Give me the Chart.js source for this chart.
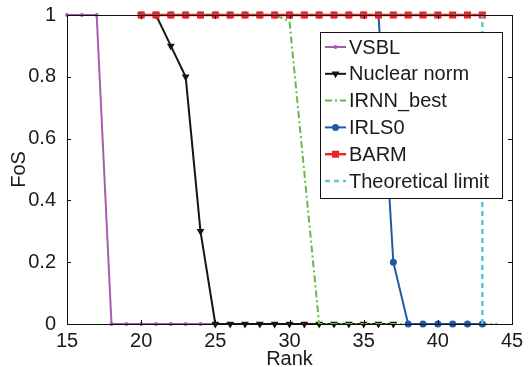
<!DOCTYPE html>
<html>
<head>
<meta charset="utf-8">
<script src="https://cdn.jsdelivr.net/npm/chart.js@4/dist/chart.umd.min.js"></script>
<style>
  html, body { margin: 0; padding: 0; background: #fff; }
  #wrap { width: 531px; height: 367px; }
</style>
</head>
<body>
<div id="wrap"><canvas id="fos" width="531" height="367"></canvas></div>
<script>
// values
var vsblRank = [15, 16, 17, 18, 19, 20, 21, 22, 23, 24, 25];
var vsblFoS  = [1, 1, 1, 0, 0, 0, 0, 0, 0, 0, 0];

var nucRank = [20, 21, 22, 23, 24, 25, 26, 27, 28, 29, 30, 31, 32, 33, 34, 35, 36, 37];
var nucFoS  = [1, 1, 0.9, 0.8, 0.3, 0, 0, 0, 0, 0, 0, 0, 0, 0, 0, 0, 0, 0];

var irnnRank = [20, 21, 22, 23, 24, 25, 26, 27, 28, 29, 30, 31, 32, 33, 34, 35, 36, 37, 38, 39, 40, 41, 42, 43, 44];
var irnnFoS  = [1, 1, 1, 1, 1, 1, 1, 1, 1, 1, 0.98, 0.49, 0, 0, 0, 0, 0, 0, 0, 0, 0, 0, 0, 0, 0];

var irlsRank = [20, 21, 22, 23, 24, 25, 26, 27, 28, 29, 30, 31, 32, 33, 34, 35, 36, 37, 38, 39, 40, 41, 42, 43];
var irlsFoS  = [1, 1, 1, 1, 1, 1, 1, 1, 1, 1, 1, 1, 1, 1, 1, 1, 1, 0.2, 0, 0, 0, 0, 0, 0];

var barmRank = [20, 21, 22, 23, 24, 25, 26, 27, 28, 29, 30, 31, 32, 33, 34, 35, 36, 37, 38, 39, 40, 41, 42, 43];
var barmFoS  = [1, 1, 1, 1, 1, 1, 1, 1, 1, 1, 1, 1, 1, 1, 1, 1, 1, 1, 1, 1, 1, 1, 1, 1];

var limitRank = [43, 43];
var limitFoS  = [0, 1];

var xTicks = [15, 20, 25, 30, 35, 40, 45];
var yTicks = [0, 0.2, 0.4, 0.6, 0.8, 1];
var yTickLabels = ["0", "0.2", "0.4", "0.6", "0.8", "1"];

function pts(xs, ys) {
    return xs.map(function (x, i) { return {x: x, y: ys[i]}; });
}

var FONT = "'Liberation Sans', Arial, Helvetica, sans-serif";

var datasets = [
    {
        label: "VSBL", data: pts(vsblRank, vsblFoS),
        borderColor: "#a65db0", backgroundColor: "#a65db0", borderWidth: 2,
        pointStyle: "circle", pointRadius: 2, order: 6
    },
    {
        label: "Nuclear norm", data: pts(nucRank, nucFoS),
        borderColor: "#151515", backgroundColor: "#151515", borderWidth: 2,
        pointStyle: "triangle", pointRotation: 180, pointRadius: 4.5, order: 5
    },
    {
        label: "IRNN_best", data: pts(irnnRank, irnnFoS),
        borderColor: "#66bb44", backgroundColor: "#66bb44", borderWidth: 2,
        borderDash: [7, 3, 2, 3], pointRadius: 0, order: 4
    },
    {
        label: "IRLS0", data: pts(irlsRank, irlsFoS),
        borderColor: "#2358a8", backgroundColor: "#2358a8", borderWidth: 2,
        pointStyle: "circle", pointRadius: 3.5, order: 3
    },
    {
        label: "BARM", data: pts(barmRank, barmFoS),
        borderColor: "#e8262c", backgroundColor: "#e8262c", borderWidth: 2.5,
        pointStyle: "rect", pointRadius: 5, order: 2
    },
    {
        label: "Theoretical limit", data: pts(limitRank, limitFoS),
        borderColor: "#5cc6d4", backgroundColor: "#5cc6d4", borderWidth: 2.5,
        borderDash: [5, 4], pointRadius: 0, order: 1
    }
];
datasets.forEach(function (d) {
    d.fill = false;
    d.tension = 0;
    d.clip = false;
    d.pointBorderWidth = 0;
    d.pointHoverRadius = d.pointRadius;
});

function drawMarker(ctx, d, x, y) {
    if (!d.pointRadius) return;
    var r = d.pointRadius;
    ctx.fillStyle = d.backgroundColor;
    ctx.beginPath();
    if (d.pointStyle === "circle") {
        ctx.arc(x, y, r, 0, Math.PI * 2);
    } else if (d.pointStyle === "rect") {
        var h = r * Math.SQRT1_2;
        ctx.rect(x - h, y - h, 2 * h, 2 * h);
    } else if (d.pointStyle === "triangle") {
        ctx.moveTo(x - r * 0.87, y - r * 0.5);
        ctx.lineTo(x + r * 0.87, y - r * 0.5);
        ctx.lineTo(x, y + r);
        ctx.closePath();
    }
    ctx.fill();
}

// box, inward ticks and the legend
var framePlugin = {
    id: "frame",
    afterDraw: function (chart) {
        var ctx = chart.ctx;
        var a = chart.chartArea;
        var xs = chart.scales.x, ys = chart.scales.y;
        ctx.save();
        ctx.strokeStyle = "#111";
        ctx.lineWidth = 1;
        ctx.setLineDash([]);
        ctx.strokeRect(Math.round(a.left) + 0.5, Math.round(a.top) + 0.5,
            Math.round(a.right - a.left), Math.round(a.bottom - a.top));
        var tl = 4;
        ctx.beginPath();
        xTicks.forEach(function (v) {
            var px = Math.round(xs.getPixelForValue(v)) + 0.5;
            ctx.moveTo(px, a.bottom); ctx.lineTo(px, a.bottom - tl);
            ctx.moveTo(px, a.top); ctx.lineTo(px, a.top + tl);
        });
        yTicks.forEach(function (v) {
            var py = Math.round(ys.getPixelForValue(v)) + 0.5;
            ctx.moveTo(a.left, py); ctx.lineTo(a.left + tl, py);
            ctx.moveTo(a.right, py); ctx.lineTo(a.right - tl, py);
        });
        ctx.stroke();

        // legend
        var bx = 320, by = 32, bw = 182, bh = 166;
        ctx.fillStyle = "#fff";
        ctx.fillRect(bx, by, bw, bh);
        ctx.strokeRect(bx + 0.5, by + 0.5, bw, bh);
        ctx.font = "20px " + FONT;
        ctx.textBaseline = "middle";
        ctx.textAlign = "left";
        chart.data.datasets.forEach(function (d, i) {
            var y = by + 15 + i * 26.8;
            ctx.strokeStyle = d.borderColor;
            ctx.lineWidth = d.borderWidth;
            ctx.setLineDash(d.borderDash || []);
            ctx.beginPath();
            ctx.moveTo(bx + 5, y); ctx.lineTo(bx + 26, y);
            ctx.stroke();
            ctx.setLineDash([]);
            drawMarker(ctx, d, bx + 15.5, y);
            ctx.fillStyle = "#1a1a1a";
            ctx.fillText(d.label, bx + 29, y + 1);
        });
        ctx.restore();
    }
};

var ctx = document.getElementById("fos");
var chart = new Chart(ctx, {
    type: "line",
    data: { datasets: datasets },
    plugins: [framePlugin],
    options: {
        responsive: false,
        animation: false,
        layout: { padding: { top: 15, right: 19, left: 0, bottom: 0 } },
        plugins: {
            legend: { display: false },
            tooltip: { enabled: false }
        },
        scales: {
            x: {
                type: "linear", min: 15, max: 45,
                afterBuildTicks: function (s) { s.ticks = xTicks.map(function (v) { return {value: v}; }); },
                afterFit: function (s) { s.height = 43; },
                grid: { display: false },
                border: { display: false },
                ticks: { color: "#1a1a1a", padding: -3, font: { size: 20, family: FONT } },
                title: {
                    display: true, text: "Rank", color: "#1a1a1a",
                    font: { size: 20, family: FONT, lineHeight: 1 },
                    padding: { top: 0, bottom: -2 }
                }
            },
            y: {
                min: 0, max: 1,
                afterBuildTicks: function (s) { s.ticks = yTicks.map(function (v) { return {value: v}; }); },
                afterFit: function (s) { s.width = 67; },
                grid: { display: false },
                border: { display: false },
                ticks: {
                    color: "#1a1a1a", padding: 3, font: { size: 20, family: FONT },
                    callback: function (v) { return yTickLabels[yTicks.indexOf(v)]; }
                },
                title: {
                    display: true, text: "FoS", color: "#1a1a1a",
                    font: { size: 20, family: FONT },
                    padding: { top: 7, bottom: 0 }
                }
            }
        }
    }
});
</script>
</body>
</html>
